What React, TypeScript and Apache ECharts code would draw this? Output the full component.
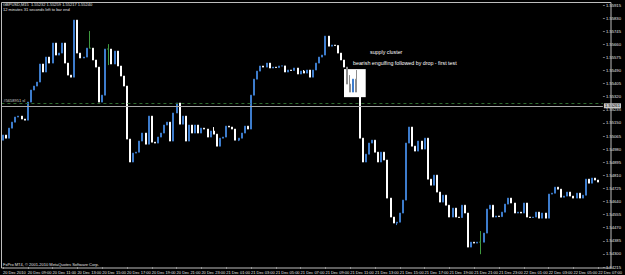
import { useEffect, useRef } from 'react';
import * as echarts from 'echarts';

// 15-minute bars, GBPUSD, starting 20 Dec 2010 07:00
const START_UTC = Date.UTC(2010, 11, 20, 7, 0);
const BAR_MINUTES = 15;
const EXTRA_SLOTS = 1;
const MONTHS = ['Jan', 'Feb', 'Mar', 'Apr', 'May', 'Jun', 'Jul', 'Aug', 'Sep', 'Oct', 'Nov', 'Dec'];

const firstOpen = 1.55038;
const closes = [
  1.55071, 1.55051, 1.55116, 1.55155, 1.55188, 1.55194, 1.55175, 1.55168, 1.55285, 1.55363,
  1.55389, 1.55415, 1.55532, 1.5548, 1.55577, 1.55538, 1.55668, 1.5559, 1.55603, 1.55668,
  1.55538, 1.5546, 1.55447, 1.55817, 1.55603, 1.55571, 1.55577, 1.55635, 1.55635, 1.55558,
  1.55512, 1.55285, 1.5533, 1.55629, 1.55629, 1.55532, 1.55616, 1.55519, 1.55454, 1.55389,
  1.55045, 1.54896, 1.54954, 1.5496, 1.55032, 1.55084, 1.55012, 1.55194, 1.55025, 1.55019,
  1.55058, 1.55084, 1.55136, 1.55155, 1.55032, 1.55214, 1.55279, 1.55142, 1.55194, 1.55032,
  1.55136, 1.55084, 1.55136, 1.55084, 1.55116, 1.5511, 1.55058, 1.55097, 1.55077, 1.54999,
  1.55051, 1.55058, 1.55129, 1.55123, 1.5511, 1.55038, 1.55051, 1.55084, 1.55129, 1.5511,
  1.5533, 1.55434, 1.55486, 1.55519, 1.55512, 1.55538, 1.55506, 1.55512, 1.55509, 1.55519,
  1.5552, 1.5548, 1.55493, 1.5549, 1.55506, 1.55467, 1.55486, 1.55473, 1.55493, 1.55447,
  1.55493, 1.55538, 1.55577, 1.5559, 1.55713, 1.55648, 1.55655, 1.55652, 1.55603, 1.55558,
  1.55512, 1.55402, 1.5535, 1.55434, 1.5535, 1.55051, 1.54896, 1.54947, 1.55019, 1.55038,
  1.5496, 1.54896, 1.5496, 1.54909, 1.54662, 1.54539, 1.545, 1.54506, 1.54565, 1.54649,
  1.55019, 1.55123, 1.54999, 1.54967, 1.55032, 1.5498, 1.55051, 1.54785, 1.54746, 1.54811,
  1.54701, 1.54636, 1.54681, 1.54616, 1.54539, 1.54597, 1.54539, 1.54536, 1.54616, 1.54565,
  1.54344, 1.54376, 1.5437, 1.54376, 1.54376, 1.54435, 1.54591, 1.54616, 1.54539, 1.54546,
  1.54542, 1.54571, 1.54623, 1.54662, 1.5463, 1.54565, 1.54571, 1.54565, 1.5463, 1.54539,
  1.54536, 1.54539, 1.54571, 1.54532, 1.54565, 1.54532, 1.54688, 1.54694, 1.54733, 1.5472,
  1.54668, 1.54675, 1.54701, 1.54675, 1.54662, 1.54694, 1.54662, 1.54681, 1.54785, 1.54759,
  1.54792, 1.54779, 1.54766,
];
const wickHighs: Record<number, number> = {
  28: 1.55746, 34: 1.55661, 68: 1.55123, 97: 1.55493, 105: 1.55707,
  111: 1.55506, 112: 1.5546, 114: 1.55493, 154: 1.54448,
};
const wickLows: Record<number, number> = {
  34: 1.55525, 76: 1.55032, 127: 1.54487, 154: 1.54298,
};
const boxedBars = [111, 112, 113, 114];

const priceMin = 1.54215;
const priceMax = 1.55915;
const priceStep = 0.00085;

const slPrice = 1.55277;
const bidPrice = 1.55261;
const boxRange = { fromBar: 110, toBar: 117, top: 1.55499, bottom: 1.55317 };

const titleLine1 = 'GBPUSD,M15  1.55232 1.55259 1.55217 1.55240';
const titleLine2 = '12 minutes 31 seconds left to bar end';
const copyright = 'FxPro MT4, \u00a9 2001-2010 MetaQuotes Software Corp.';
const noteTitle = 'supply cluster';
const noteText = 'bearish engulfing followed by drop - first test';
const slLabel = '#5658951 sl';

const pad = (n: number) => (n < 10 ? '0' + n : '' + n);
const categories: string[] = [];
for (let i = 0; i < closes.length + EXTRA_SLOTS; i++) {
  const d = new Date(START_UTC + i * BAR_MINUTES * 60000);
  categories.push(
    i === 0
      ? `${d.getUTCDate()} ${MONTHS[d.getUTCMonth()]} ${d.getUTCFullYear()}`
      : `${d.getUTCDate()} ${MONTHS[d.getUTCMonth()]} ${pad(d.getUTCHours())}:${pad(d.getUTCMinutes())}`
  );
}

const FONT = 'Liberation Sans, Arial, sans-serif';

export default function App() {
  const ref = useRef<HTMLDivElement>(null);
  useEffect(() => {
    document.body.style.margin = '0';
    document.body.style.background = '#000';
    if (!ref.current) return;
    const chart = echarts.init(ref.current, undefined, { renderer: 'svg' });

    const data = closes.map((c, i) => {
      const o = i === 0 ? firstOpen : closes[i - 1];
      const hi = wickHighs[i] ?? Math.max(o, c);
      const lo = wickLows[i] ?? Math.min(o, c);
      const value = [o, c, lo, hi];
      if (boxedBars.includes(i)) {
        return {
          value,
          itemStyle: { color0: '#ffffff', borderColor0: '#8c8c8c' },
        };
      }
      return value;
    });

    chart.setOption({
      animation: false,
      backgroundColor: '#000000',
      textStyle: { fontFamily: FONT },
      grid: { left: 0, right: 14, top: 5, bottom: 8, containLabel: false },
      xAxis: {
        type: 'category',
        data: categories,
        boundaryGap: true,
        axisLine: { show: false },
        axisTick: { show: true, interval: 7, alignWithLabel: true, length: 2, lineStyle: { color: '#c0c0c0', width: 0.6 } },
        axisLabel: { interval: 7, color: '#e6e6e6', fontSize: 4, align: 'left', margin: 3, fontFamily: FONT },
        splitLine: { show: false },
      },
      yAxis: {
        type: 'value',
        position: 'right',
        min: priceMin,
        max: priceMax,
        interval: priceStep,
        axisLine: { show: false },
        axisTick: { show: true, length: 2, lineStyle: { color: '#c0c0c0', width: 0.6 } },
        axisLabel: {
          color: '#e6e6e6',
          fontSize: 4.2,
          margin: 3,
          fontFamily: FONT,
          formatter: (v: number) => v.toFixed(5),
        },
        splitLine: { show: false },
      },
      series: [
        {
          type: 'line',
          data: [],
          silent: true,
          z: 1,
          markLine: {
            silent: true,
            symbol: 'none',
            precision: 5,
            animation: false,
            data: [
              {
                yAxis: slPrice,
                lineStyle: { color: '#2f6b2f', type: [3, 3], width: 1 },
                label: {
                  show: true,
                  position: 'insideStartTop',
                  formatter: slLabel,
                  color: '#d0d0d0',
                  fontSize: 4,
                  distance: [2, 1],
                  fontFamily: FONT,
                },
              },
              {
                yAxis: bidPrice,
                lineStyle: { color: '#a8a8a8', type: 'solid', width: 1 },
                label: {
                  show: true,
                  position: 'end',
                  formatter: bidPrice.toFixed(5),
                  color: '#000000',
                  backgroundColor: '#c8c8c8',
                  fontSize: 4.2,
                  padding: [0.5, 1],
                  distance: 1,
                  fontFamily: FONT,
                },
              },
            ],
          },
        },
        {
          type: 'candlestick',
          data,
          barWidth: 1.5,
          z: 3,
          itemStyle: {
            color: '#3d7ccc',
            borderColor: '#3d7ccc',
            color0: '#ffffff',
            borderColor0: '#ffffff',
            borderColorDoji: '#3f9a3f',
            borderWidth: 1,
          },
          markArea: {
            silent: true,
            itemStyle: { color: '#ffffff' },
            data: [[
              { xAxis: categories[boxRange.fromBar], yAxis: boxRange.top },
              { xAxis: categories[boxRange.toBar], yAxis: boxRange.bottom },
            ]],
          },
        },
      ],
      graphic: [
        {
          type: 'rect',
          silent: true,
          z: 100,
          shape: { x: 1.5, y: 2.5, width: 609.5, height: 265.5 },
          style: { fill: 'none', stroke: '#bdbdbd', lineWidth: 1 },
        },
        {
          type: 'text', x: 3, y: 4.5, z: 100,
          style: { text: titleLine1, fill: '#e0e0e0', fontSize: 4, fontFamily: FONT, verticalAlign: 'middle' },
        },
        {
          type: 'text', x: 3, y: 9, z: 100,
          style: { text: titleLine2, fill: '#e0e0e0', fontSize: 4, fontFamily: FONT, verticalAlign: 'middle' },
        },
        {
          type: 'text', x: 3, y: 264.5, z: 100,
          style: { text: copyright, fill: '#e0e0e0', fontSize: 4, fontFamily: FONT, verticalAlign: 'middle' },
        },
        {
          type: 'text', x: 370, y: 52, z: 100,
          style: { text: noteTitle, fill: '#ffffff', fontSize: 5.3, fontFamily: FONT, verticalAlign: 'middle' },
        },
        {
          type: 'text', x: 353, y: 63, z: 100,
          style: { text: noteText, fill: '#ffffff', fontSize: 5.3, fontFamily: FONT, verticalAlign: 'middle' },
        },
      ],
    });
    return () => chart.dispose();
  }, []);
  return <div ref={ref} style={{ width: 625, height: 275 }} />;
}
